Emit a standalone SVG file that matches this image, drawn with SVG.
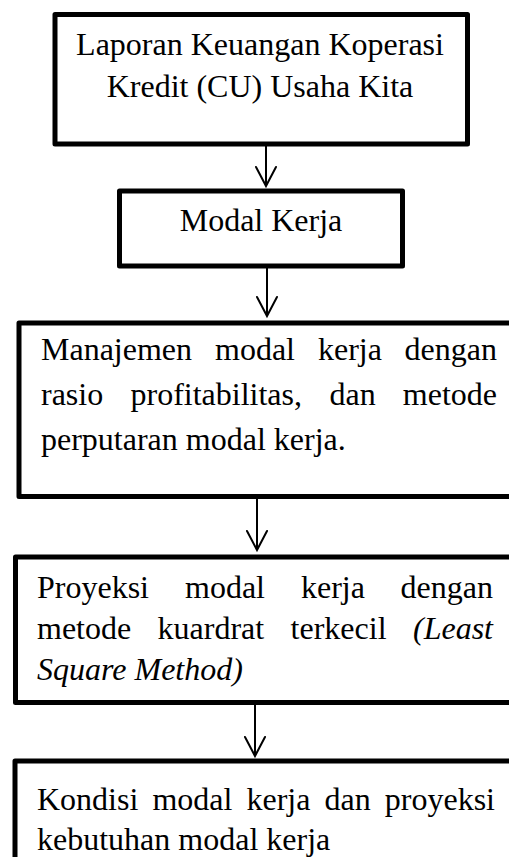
<svg xmlns="http://www.w3.org/2000/svg" width="509" height="857" viewBox="0 0 509 857">
<defs>
<style>
.box{fill:#fff;stroke:#000;stroke-width:5;stroke-linejoin:round}
.t{font-family:'Liberation Serif',serif;font-size:32px;fill:#000}
.c{text-anchor:middle}
.i{font-style:italic}
.conn{fill:none;stroke:#000;stroke-width:2}
</style>
<marker id="arr" markerUnits="userSpaceOnUse" viewBox="-22 -12 24 24" refX="0" refY="0" markerWidth="24" markerHeight="24" orient="auto" overflow="visible">
<path d="M-19,-10 L0,0 L-19,10" fill="none" stroke="#000" stroke-width="2" stroke-linecap="round"/>
</marker>
</defs>
<rect width="509" height="857" fill="#fff"/>
<g id="connectors">
<path class="conn" d="M266,146 L266,186" marker-end="url(#arr)"/>
<path class="conn" d="M267,268 L267,316" marker-end="url(#arr)"/>
<path class="conn" d="M257,499 L257,550" marker-end="url(#arr)"/>
<path class="conn" d="M255,705 L255,756" marker-end="url(#arr)"/>
</g>
<g id="n1" font-family="Liberation Serif, serif">
<rect class="box" x="55" y="14.5" width="412.5" height="129.5"/>
<text class="t c" x="260" y="55">Laporan Keuangan Koperasi</text>
<text class="t c" x="260" y="97">Kredit (CU) Usaha Kita</text>
</g>
<g id="n2" font-family="Liberation Serif, serif">
<rect class="box" x="119.5" y="191" width="283" height="75"/>
<text class="t c" x="261" y="231">Modal Kerja</text>
</g>
<g id="n3" font-family="Liberation Serif, serif">
<rect class="box" x="19" y="323" width="520" height="173.5"/>
<text class="t" y="360"><tspan x="41">Manajemen</tspan><tspan x="215">modal</tspan><tspan x="318">kerja</tspan><tspan x="497" text-anchor="end">dengan</tspan></text>
<text class="t" y="405"><tspan x="41">rasio</tspan><tspan x="130.5">profitabilitas,</tspan><tspan x="329.5">dan</tspan><tspan x="497" text-anchor="end">metode</tspan></text>
<text class="t" x="41" y="450">perputaran modal kerja.</text>
</g>
<g id="n4" font-family="Liberation Serif, serif">
<rect class="box" x="15.5" y="557" width="520" height="145.5"/>
<text class="t" y="598"><tspan x="37">Proyeksi</tspan><tspan x="185">modal</tspan><tspan x="301">kerja</tspan><tspan x="493" text-anchor="end">dengan</tspan></text>
<text class="t" y="639"><tspan x="37">metode</tspan><tspan x="157.6">kuardrat</tspan><tspan x="290.6">terkecil</tspan><tspan class="i" x="493" text-anchor="end">(Least</tspan></text>
<text class="t i" x="37" y="680">Square Method)</text>
</g>
<g id="n5" font-family="Liberation Serif, serif">
<rect class="box" x="15" y="761" width="520" height="120"/>
<text class="t" y="810"><tspan x="37">Kondisi</tspan><tspan x="152.4">modal</tspan><tspan x="246.5">kerja</tspan><tspan x="324.6">dan</tspan><tspan x="495" text-anchor="end">proyeksi</tspan></text>
<text class="t" x="37" y="850">kebutuhan modal kerja</text>
</g>
</svg>
